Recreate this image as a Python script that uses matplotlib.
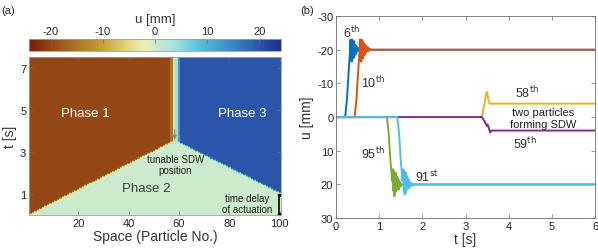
import numpy as np
import matplotlib
import matplotlib.pyplot as plt
from matplotlib.colors import LinearSegmentedColormap

matplotlib.rcParams["font.family"] = ["Liberation Sans", "DejaVu Sans"]
matplotlib.rcParams["font.size"] = 8
matplotlib.rcParams["axes.unicode_minus"] = False

TXT = "#3a3030"
SPINE = "#6e6e6e"

# ---- panel (a): space-time map ----
particles = np.arange(1, 101)
times = np.arange(0, 7.5 + 0.025, 0.025)

# wave fronts (particle, activation time)
left_front_p = [1, 57]
left_front_t = [0.0, 3.42]
right_front_p = [60, 100]
right_front_t = [3.40, 1.0]
sdw_p = [58, 59]
sdw_t = [3.40, 3.40]

# final displacement of each region [mm]
u_phase1 = -20
u_phase3 = 20
u_edge = {57: -15, 58: -4, 59: 4, 60: 13}

# shape of the step when a particle flips (time after onset, fraction of final u)
ramp_dt = [0.0, 0.04, 0.08, 0.12]
ramp_frac = [0.0, 0.25, 0.7, 1.0]

# colormap stops (u value, colour)
cmap_u = [-24.2, -20, -10, -5, -2, 0, 4, 8, 14, 20, 24.2]
cmap_c = ["#7a1f06", "#944816", "#c9a03a", "#e4d886", "#eaf0b4", "#cdeacb",
          "#9fe2e2", "#5ec4da", "#3f8fca", "#2b55a8", "#1a2f8a"]

# ---- panel (b): displacement histories ----
t6 = [0, 0.21, 0.25, 0.29, 0.32, 0.335, 0.345, 0.355, 0.365, 0.375, 0.385, 0.395,
      0.405, 0.415, 0.425, 0.435, 0.445, 0.455, 0.465, 0.475, 0.49, 0.51, 0.53, 6]
u6 = [0, 0, -5, -13, -19, -23, -17, -22.5, -16.5, -23, -18, -22, -17.5, -22.5,
      -18.5, -21.5, -18.5, -21, -19, -21, -19.5, -20.5, -20, -20]
t10 = [0, 0.43, 0.47, 0.51, 0.54, 0.555, 0.565, 0.575, 0.585, 0.595, 0.605, 0.615,
       0.625, 0.635, 0.645, 0.655, 0.665, 0.675, 0.685, 0.695, 0.71, 0.73, 0.75,
       0.78, 0.82, 6]
u10 = [0, 0, -5, -13, -19, -23, -17, -22.5, -16.5, -23, -18, -22.5, -17.5, -22,
       -18.5, -21.5, -18.5, -21.5, -19, -21, -19.5, -20.8, -19.5, -20.3, -20, -20]
t58 = [0, 3.38, 3.44, 3.48, 3.50, 3.53, 3.56, 6]
u58 = [0, 0, -4, -7, -7.5, -5, -4, -4]
t59 = [0, 3.38, 3.44, 3.49, 3.51, 3.54, 3.57, 3.60, 6]
u59 = [0, 0, 1.2, 2.6, 2.2, 3.2, 4.6, 4, 4]
t95 = [0, 1.18, 1.22, 1.26, 1.30, 1.32, 1.33, 1.34, 1.35, 1.36, 1.37, 1.38, 1.39,
       1.40, 1.41, 1.42, 1.43, 1.44, 1.45, 1.46, 1.47, 1.48, 1.50, 1.52, 6]
u95 = [0, 0, 5, 13, 19, 15.5, 22, 16, 23.5, 17, 22.5, 16.5, 22, 17.5, 21.5, 18,
       21, 18.5, 21.5, 19, 20.8, 19.3, 20.5, 20, 20]
t91 = [0, 1.42, 1.46, 1.50, 1.54, 1.56, 1.57, 1.58, 1.59, 1.60, 1.61, 1.62, 1.63,
       1.64, 1.65, 1.66, 1.67, 1.68, 1.69, 1.70, 1.72, 1.74, 1.77, 1.80, 6]
u91 = [0, 0, 5, 13, 19, 15.5, 22, 16, 23, 17, 22.5, 16.5, 21.5, 17.5, 21.5, 18,
       21, 18.5, 21, 19.2, 20.7, 19.5, 20.3, 20, 20]

# ---- build the field ----
onset = np.zeros(len(particles))
final = np.zeros(len(particles))
for k, p in enumerate(particles):
    if p <= left_front_p[1]:
        onset[k] = np.interp(p, left_front_p, left_front_t)
        final[k] = u_phase1
    elif p in sdw_p:
        onset[k] = sdw_t[sdw_p.index(p)]
        final[k] = 0
    else:
        onset[k] = np.interp(p, right_front_p, right_front_t)
        final[k] = u_phase3
    if p in u_edge:
        final[k] = u_edge[p]

field = np.zeros((len(times), len(particles)))
for k in range(len(particles)):
    field[:, k] = final[k] * np.interp(times - onset[k], ramp_dt, ramp_frac)

stops = [(u - cmap_u[0]) / (cmap_u[-1] - cmap_u[0]) for u in cmap_u]
cmap = LinearSegmentedColormap.from_list("sdw", list(zip(stops, cmap_c)))

fig = plt.figure(figsize=(5.98, 2.51), dpi=100)

ax1 = fig.add_axes([0.0485, 0.139, 0.4215, 0.629])
x_edges = np.arange(0.5, 101.5, 1.0)
t_edges = np.concatenate([times - 0.0125, [times[-1] + 0.0125]])
mesh = ax1.pcolormesh(x_edges, t_edges, field, cmap=cmap,
                      vmin=cmap_u[0], vmax=cmap_u[-1], shading="flat")
ax1.set_xlim(0.5, 100.5)
ax1.set_ylim(0, 7.5)
ax1.set_xticks([20, 40, 60, 80, 100])
ax1.set_yticks([1, 3, 5, 7])
ax1.tick_params(direction="in", top=True, right=True, length=3, width=0.5,
                color=SPINE, labelcolor="#262626", labelsize=8, pad=2)
for s in ax1.spines.values():
    s.set_color("#a0a0a0")
    s.set_linewidth(0.6)
ax1.set_xlabel("Space (Particle No.)", fontsize=10, color=TXT, labelpad=1)
ax1.set_ylabel("t [s]", fontsize=10, color=TXT, labelpad=2)

ax1.text(23, 4.85, "Phase 1", color="white", fontsize=9.5, ha="center", va="center")
ax1.text(85, 4.85, "Phase 3", color="white", fontsize=9.5, ha="center", va="center")
ax1.text(47, 1.3, "Phase 2", color="#404040", fontsize=9.5, ha="center", va="center")
ax1.text(58.5, 2.4, "tunable SDW\nposition", color="#202020", fontsize=7,
         ha="center", va="center", linespacing=1.2)
ax1.text(87, 0.55, "time delay\nof actuation", color="#202020", fontsize=7,
         ha="center", va="center", linespacing=1.2)
ax1.annotate("", xy=(58.3, 3.45), xytext=(58.3, 4.2),
             arrowprops=dict(arrowstyle="-|>", color="#8a8a78", lw=0.8,
                             mutation_scale=6))
ax1.plot([99.7, 99.7], [0.05, 0.95], color="black", lw=1.2, marker=".",
         markersize=3, clip_on=False)

cax = fig.add_axes([0.0485, 0.793, 0.4215, 0.048])
cb = fig.colorbar(mesh, cax=cax, orientation="horizontal")
cb.set_ticks([-20, -10, 0, 10, 20])
cax.xaxis.set_ticks_position("top")
cax.xaxis.set_label_position("top")
cax.tick_params(direction="in", length=3, width=0.5, color=SPINE,
                labelcolor="#262626", labelsize=8, pad=2)
cb.outline.set_edgecolor("#a0a0a0")
cb.outline.set_linewidth(0.6)
cb.set_label("u [mm]", fontsize=9.5, color=TXT, labelpad=3)

fig.text(0.002, 0.975, "(a)", fontsize=8, color="#262626", va="top")
fig.text(0.502, 0.975, "(b)", fontsize=8, color="#262626", va="top")

# ---- panel (b) ----
ax2 = fig.add_axes([0.562, 0.127, 0.433, 0.805])
lw = 1.4
ax2.plot(t6, u6, color="#0072BD", lw=lw)
ax2.plot(t10, u10, color="#D95319", lw=lw)
ax2.plot(t58, u58, color="#EDB120", lw=lw)
ax2.plot(t59, u59, color="#7E2F8E", lw=lw)
ax2.plot(t95, u95, color="#77AC30", lw=lw)
ax2.plot(t91, u91, color="#4DBEEE", lw=lw)
ax2.set_xlim(0, 6)
ax2.set_ylim(30, -30)
ax2.set_xticks(range(0, 7))
ax2.set_yticks([-30, -20, -10, 0, 10, 20, 30])
ax2.tick_params(direction="in", top=True, right=True, length=3, width=0.5,
                color=SPINE, labelcolor="#262626", labelsize=8, pad=2)
for s in ax2.spines.values():
    s.set_color(SPINE)
    s.set_linewidth(0.6)
ax2.set_xlabel("t [s]", fontsize=10, color=TXT, labelpad=1)
ax2.set_ylabel("u [mm]", fontsize=10, color=TXT, labelpad=2)

ann = dict(fontsize=9, color=TXT, ha="center", va="center")
ax2.text(0.37, -25.3, "6$^{\\mathrm{th}}$", **ann)
ax2.text(0.85, -10.4, "10$^{\\mathrm{th}}$", **ann)
ax2.text(4.42, -7.4, "58$^{\\mathrm{th}}$", **ann)
ax2.text(4.38, 7.7, "59$^{\\mathrm{th}}$", **ann)
ax2.text(0.86, 10.8, "95$^{\\mathrm{th}}$", **ann)
ax2.text(2.1, 17.6, "91$^{\\mathrm{st}}$", **ann)
ax2.text(4.8, 0.2, "two particles\nforming SDW", fontsize=8, color="#202020",
         ha="center", va="center", linespacing=1.2)

fig.savefig("out.png", dpi=100)
